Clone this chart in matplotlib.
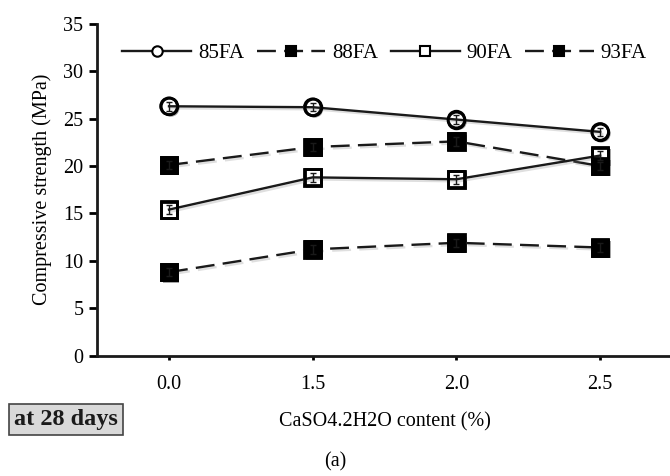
import matplotlib
matplotlib.use("Agg")
import matplotlib.pyplot as plt
import matplotlib.patheffects as pe

categories = ["0.0", "1.5", "2.0", "2.5"]
s85 = [26.3, 26.2, 24.9, 23.6]
s88 = [20.1, 22.0, 22.6, 20.0]
s90 = [15.4, 18.8, 18.6, 21.1]
s93 = [8.8, 11.2, 11.9, 11.4]
err = [0.45, 0.45, 0.45, 0.45]

plt.rcParams['font.family'] = ['Liberation Serif', 'DejaVu Serif']

fig = plt.figure(figsize=(6.7, 4.76), dpi=100)
ax = fig.add_axes([0.145, 0.253, 0.858, 0.697])

x = list(range(len(categories)))
shadow = [pe.SimplePatchShadow(offset=(1.5, -1.5), shadow_rgbFace='0.3', alpha=0.5), pe.Normal()]
lshadow = [pe.SimpleLineShadow(offset=(1.5, -1.5), shadow_color='0.5', alpha=0.25), pe.Normal()]

series = [
    ("85FA", s85, 'o', 'white', '-'),
    ("88FA", s88, 's', 'black', (0, (8, 3.5))),
    ("90FA", s90, 's', 'white', '-'),
    ("93FA", s93, 's', 'black', (0, (8, 3.5))),
]
for name, vals, mk, fc, ls in series:
    ax.plot(x, vals, ls='none', marker=mk, ms=12, mfc=fc,
            mec='black', mew=2, zorder=2, path_effects=shadow)
    ax.plot(x, vals, color='#1a1a1a', lw=1.7, linestyle=ls, zorder=3, path_effects=lshadow)
    ax.plot(x, vals, ls='none', marker=mk, ms=12, mfc='none' if fc == 'white' else fc,
            mec='black', mew=2, zorder=4)
    ax.errorbar(x, vals, yerr=err, fmt='none', ecolor='#1a1a1a', elinewidth=1, capsize=2.5, zorder=5)
    ax.plot([], [], color='#1a1a1a', lw=1.7, linestyle=ls, marker=mk, ms=7.5,
            mfc=fc, mec='black', mew=1.5, label=name)

ax.set_xlim(-0.5, 3.5)
ax.set_ylim(0, 35)
ax.set_xticks(x)
ax.set_xticklabels(categories)
ax.set_yticks(range(0, 36, 5))
for s in ['top', 'right']:
    ax.spines[s].set_visible(False)
for s in ['left', 'bottom']:
    ax.spines[s].set_linewidth(2)
    ax.spines[s].set_color('#1a1a1a')
ax.tick_params(axis='y', direction='out', length=6, width=2, labelsize=14.5, pad=4)
ax.tick_params(axis='x', direction='out', length=3, width=2, labelsize=14.5, pad=11)
ax.set_ylabel("Compressive strength (MPa)", fontsize=14.5, labelpad=8)
ax.set_xlabel("CaSO4.2H2O content (%)", fontsize=14.5, labelpad=13)

handles, labels = ax.get_legend_handles_labels()
ax.legend(handles, labels, loc='center', bbox_to_anchor=(0.5, 0.91), ncol=4, frameon=False,
          fontsize=15, handlelength=3.3, columnspacing=0.6, handletextpad=0.33)

fig.text(0.0985, 0.1187, "at 28 days", fontsize=17.5, fontweight='bold', ha='center', va='center',
         color='#1a1a1a',
         bbox=dict(boxstyle='square,pad=0.2', facecolor='#d9d9d9', edgecolor='#444444', lw=1.2))
fig.text(0.5, 0.03, "(a)", fontsize=14.5, ha='center', va='center')

fig.savefig("out.png", dpi=100)
